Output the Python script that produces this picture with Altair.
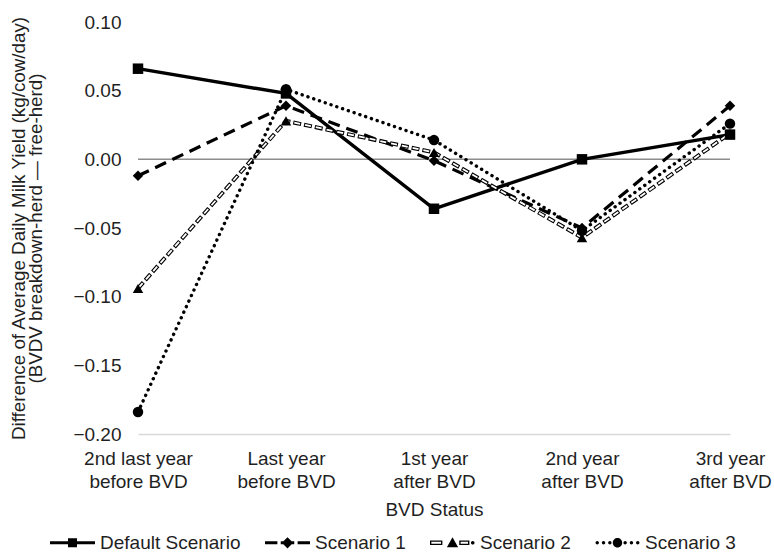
import altair as alt
import pandas as pd

# BVD status periods (two-line axis labels)
periods = [
    "2nd last year\nbefore BVD",
    "Last year\nbefore BVD",
    "1st year\nafter BVD",
    "2nd year\nafter BVD",
    "3rd year\nafter BVD",
]

series_names = ["Default Scenario", "Scenario 1", "Scenario 2", "Scenario 3"]

# Difference of average daily milk yield (kg/cow/day)
default_scenario = [0.066, 0.048, -0.036, 0.000, 0.018]
scenario_1 = [-0.012, 0.039, -0.001, -0.050, 0.039]
scenario_2 = [-0.094, 0.028, 0.005, -0.057, 0.019]
scenario_3 = [-0.184, 0.051, 0.014, -0.052, 0.026]

y_ticks = [-0.20, -0.15, -0.10, -0.05, 0.00, 0.05, 0.10]

values = [default_scenario, scenario_1, scenario_2, scenario_3]
rows = []
for name, vals in zip(series_names, values):
    for p, v in zip(periods, vals):
        rows.append({"period": p, "series": name, "marker": name, "diff": v})
df = pd.DataFrame(rows)

FONT = "Liberation Sans"
TXT = "#1f1f1f"

x_enc = alt.X(
    "period:N",
    sort=periods,
    scale=alt.Scale(type="point", padding=0),
    axis=alt.Axis(
        title="BVD Status",
        labelExpr="split(datum.value, '\\n')",
        labelAngle=0,
        labelFontSize=19,
        labelFont=FONT,
        labelColor=TXT,
        labelPadding=15,
        labelLineHeight=23,
        ticks=False,
        domainColor="#d9d9d9",
        domainWidth=1.5,
        titleFontSize=19,
        titleFont=FONT,
        titleColor=TXT,
        titleFontWeight="normal",
        titlePadding=9,
    ),
)
y_enc = alt.Y(
    "diff:Q",
    scale=alt.Scale(domain=[-0.20, 0.10], nice=False, zero=False),
    axis=alt.Axis(
        title=[
            "Difference of Average Daily Milk Yield (kg/cow/day)",
            "(BVDV breakdown-herd \u2014 free-herd)",
        ],
        values=y_ticks,
        format=".2f",
        labelFontSize=19,
        labelFont=FONT,
        labelColor=TXT,
        labelPadding=17,
        ticks=False,
        domain=False,
        grid=False,
        titleFontSize=18.8,
        titleFont=FONT,
        titleColor=TXT,
        titleFontWeight="normal",
        titlePadding=27,
        titleLineHeight=17,
        titleLimit=600,
    ),
)

# Zero reference line
zero = alt.Chart(pd.DataFrame({"diff": [0.0]})).mark_rule(
    color="#8c8c8c", strokeWidth=1.5
).encode(y="diff:Q")

base = alt.Chart(df)


def series_line(name, color="black", **style):
    return base.transform_filter(alt.datum.series == name).mark_line(
        color=color, **style
    ).encode(x=x_enc, y=y_enc)


line_default = series_line("Default Scenario", strokeWidth=3.4, strokeCap="butt")
line_s1 = series_line("Scenario 1", strokeWidth=3.2, strokeDash=[12, 7], strokeCap="butt")
# Scenario 2: hollow dashes (black outline + white core)
line_s2_outer = series_line("Scenario 2", strokeWidth=4, strokeDash=[8, 3], strokeCap="butt")
line_s2_inner = series_line(
    "Scenario 2", color="white", strokeWidth=1.8, strokeDash=[6, 5],
    strokeDashOffset=-1, strokeCap="butt",
)
line_s3 = series_line("Scenario 3", strokeWidth=3.4, strokeDash=[0.1, 6], strokeCap="round")

points = base.mark_point(filled=True, color="black", opacity=1, size=110).encode(
    x=x_enc,
    y=y_enc,
    shape=alt.Shape(
        "marker:N",
        scale=alt.Scale(
            domain=series_names, range=["square", "diamond", "triangle-up", "circle"]
        ),
        legend=None,
    ),
)


# Legend glyphs drawn as filled paths in unit space (-1..1): line pieces plus marker
def rect(x0, x1, h=0.07):
    return f"M{x0},{-h}H{x1}V{h}H{x0}Z"


def hollow_rect(x0, x1, h=0.1, t=0.06):
    inner = f"M{x0 + t},{-h + t}V{h - t}H{x1 - t}V{-h + t}Z"
    return rect(x0, x1, h) + inner


def dot(cx, r=0.075):
    return f"M{cx + r},0A{r},{r},0,1,1,{cx - r},0A{r},{r},0,1,1,{cx + r},0Z"


sq = "M-0.2,-0.2H0.2V0.2H-0.2Z"
dia = "M0,-0.25L0.25,0L0,0.25L-0.25,0Z"
tri = "M0,-0.25L0.25,0.2H-0.25Z"
circ = "M0.21,0A0.21,0.21,0,1,1,-0.21,0A0.21,0.21,0,1,1,0.21,0Z"

legend_shapes = [
    rect(-1, 1) + sq,
    rect(-1, -0.45) + rect(-0.3, 0.3) + dia + rect(0.45, 1),
    hollow_rect(-1, -0.45) + hollow_rect(0.3, 0.75) + tri + dot(0.9, 0.08),
    dot(-0.9) + dot(-0.62) + dot(-0.34) + circ + dot(0.34) + dot(0.62) + dot(0.9),
]

legend_layer = base.mark_point(filled=True, color="black", opacity=0).encode(
    x=x_enc,
    y=y_enc,
    shape=alt.Shape(
        "series:N",
        scale=alt.Scale(domain=series_names, range=legend_shapes),
        legend=alt.Legend(
            title=None,
            orient="none",
            legendX=-88,
            legendY=498,
            direction="horizontal",
            columns=4,
            labelFontSize=19,
            labelFont=FONT,
            labelColor=TXT,
            symbolSize=2025,
            symbolOpacity=1,
            symbolFillColor="black",
            symbolStrokeWidth=0,
            labelOffset=5,
            columnPadding=24,
        ),
    ),
)

chart = (
    alt.layer(
        zero, line_default, line_s1, line_s2_outer, line_s2_inner, line_s3, points,
        legend_layer,
    )
    .resolve_scale(shape="independent")
    .properties(
        width=592,
        height=412,
        autosize=alt.AutoSizeParams(type="none"),
        padding={"left": 138, "top": 22, "right": 44, "bottom": 122},
        background="white",
    )
    .configure_view(stroke=None)
)

chart.save("out.html", embed_options={"renderer": "svg", "actions": False})
